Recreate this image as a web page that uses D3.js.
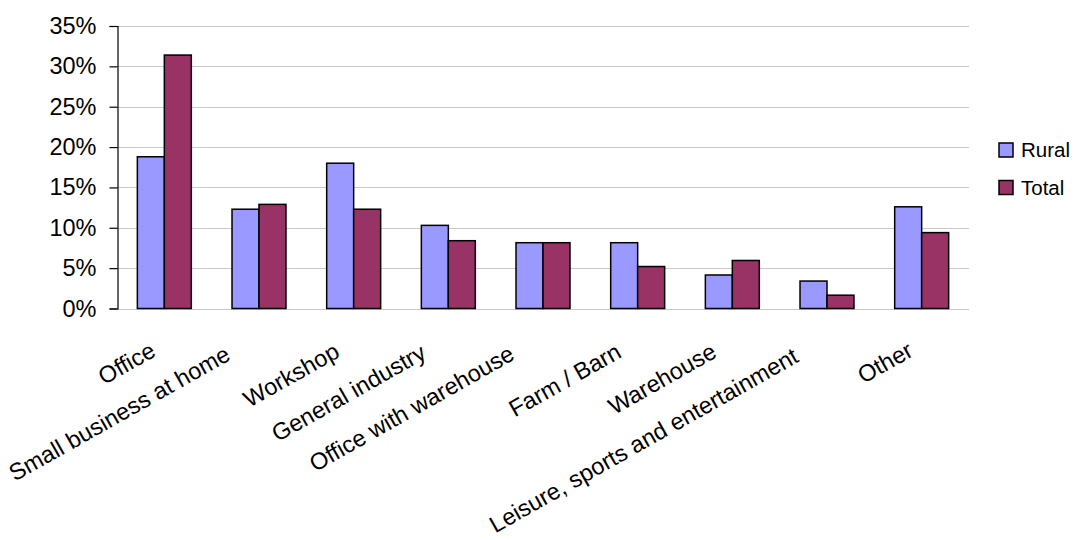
<!DOCTYPE html>
<html>
<head>
<meta charset="utf-8">
<script src="https://cdn.jsdelivr.net/npm/d3@7"></script>
<style>
  body { margin: 0; background: #fff; }
  text { font-family: "Liberation Sans", Arial, sans-serif; fill: #000; }
</style>
</head>
<body>
<script>
// chart data
var categories = ["Office", "Small business at home", "Workshop", "General industry",
  "Office with warehouse", "Farm / Barn", "Warehouse", "Leisure, sports and entertainment", "Other"];
var seriesNames = ["Rural", "Total"];
var rural = [18.8, 12.3, 18.0, 10.3, 8.15, 8.15, 4.15, 3.4, 12.6];
var total = [31.4, 12.9, 12.3, 8.4, 8.15, 5.2, 5.95, 1.65, 9.4];
var yTicks = [0, 5, 10, 15, 20, 25, 30, 35];
var colors = ["#9999ff", "#993366"];

var width = 1079, height = 540;
var svg = d3.select("body").append("svg")
  .attr("width", width)
  .attr("height", height);

var x0 = d3.scaleBand()
  .domain(categories)
  .range([117, 969])
  .paddingInner(0.43)
  .paddingOuter(0.215);

var x1 = d3.scaleBand()
  .domain(seriesNames)
  .range([0, x0.bandwidth()]);

var y = d3.scaleLinear()
  .domain([0, 35])
  .range([308.5, 26]);

// gridlines
svg.append("g")
  .selectAll("line")
  .data(yTicks)
  .enter()
  .append("line")
  .attr("x1", 117)
  .attr("x2", 969)
  .attr("y1", function(d) { return Math.round(y(d)) + 0.5 })
  .attr("y2", function(d) { return Math.round(y(d)) + 0.5 })
  .attr("stroke", "#c8c8c8")
  .attr("stroke-width", 1.2);

// y axis
var yAxis = svg.append("g")
  .attr("transform", "translate(117.5,0)")
  .call(d3.axisLeft(y).tickValues(yTicks).tickSize(8).tickPadding(13)
    .tickFormat(function(d) { return d + "%" }));
yAxis.select(".domain").attr("stroke", "#000").attr("stroke-width", 1.2);
yAxis.selectAll(".tick line").attr("stroke", "#000").attr("stroke-width", 1.2);
yAxis.selectAll("text")
  .style("font-family", "'Liberation Sans', Arial, sans-serif")
  .style("font-size", "23.5px")
  .attr("fill", "#000");

// bars
var rows = categories.map(function(c, i) {
  return { cat: c, values: [rural[i], total[i]] };
});

var groups = svg.append("g")
  .selectAll("g")
  .data(rows)
  .enter()
  .append("g")
  .attr("transform", function(d) { return "translate(" + x0(d.cat) + ",0)" });

groups.selectAll("rect")
  .data(function(d) { return d.values.map(function(v, j) { return { name: seriesNames[j], v: v, j: j } }) })
  .enter()
  .append("rect")
  .attr("x", function(d) { return x1(d.name) })
  .attr("y", function(d) { return y(d.v) })
  .attr("width", x1.bandwidth())
  .attr("height", function(d) { return y(0) - y(d.v) })
  .attr("fill", function(d) { return colors[d.j] })
  .attr("stroke", "#000")
  .attr("stroke-width", 1.5);

// category labels, rotated; longer labels sit a bit further left and lower
svg.append("g")
  .selectAll("text")
  .data(categories)
  .enter()
  .append("text")
  .attr("text-anchor", "end")
  .style("font-size", "23.5px")
  .text(function(d) { return d })
  .attr("transform", function(d) {
    var w = this.getComputedTextLength();
    var dx = -Math.min(27, Math.max(6, 0.12 * w));
    var ty = 354 + Math.min(7, 0.02 * w);
    return "translate(" + (x0(d) + x0.bandwidth() / 2 + dx) + "," + ty + ") rotate(-29.5)";
  });

// legend
var legend = svg.append("g")
  .selectAll("g")
  .data(seriesNames)
  .enter()
  .append("g")
  .attr("transform", function(d, i) { return "translate(999," + (143 + i * 37.5) + ")" });

legend.append("rect")
  .attr("width", 14)
  .attr("height", 14)
  .attr("fill", function(d, i) { return colors[i] })
  .attr("stroke", "#000")
  .attr("stroke-width", 1.5);

legend.append("text")
  .attr("x", 22)
  .attr("y", 14)
  .style("font-size", "20.5px")
  .text(function(d) { return d });
</script>
</body>
</html>
